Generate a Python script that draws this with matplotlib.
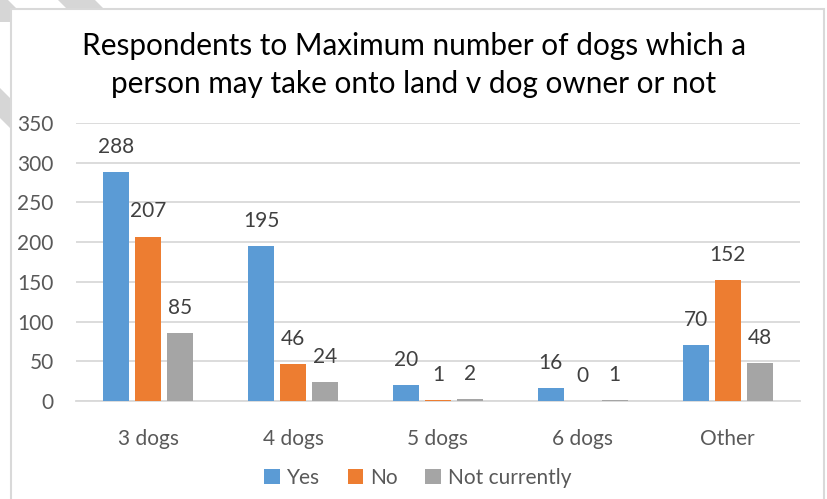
import matplotlib
matplotlib.use("Agg")
import matplotlib.pyplot as plt
from matplotlib.patches import Rectangle, Patch, Polygon
import numpy as np

categories = ["3 dogs", "4 dogs", "5 dogs", "6 dogs", "Other"]
yes = [288, 195, 20, 16, 70]
no = [207, 46, 1, 0, 152]
not_currently = [85, 24, 2, 1, 48]
series_names = ["Yes", "No", "Not currently"]
yticks = [0, 50, 100, 150, 200, 250, 300, 350]
title = "Respondents to Maximum number of dogs which a\nperson may take onto land v dog owner or not"

colors = ["#5B9BD5", "#ED7D31", "#A5A5A5"]
FONT = "Lato"
plt.rcParams['font.family'] = [FONT, 'DejaVu Sans']

W, H = 828, 499
fig = plt.figure(figsize=(W / 100, H / 100), dpi=100)
fig.patch.set_facecolor("white")


def px(pts):
    return [(x / W, 1 - y / H) for x, y in pts]


# faint watermark bands behind the chart (page background)
for poly in [
    [(58, 0), (95, 0), (125, 30), (88, 30)],
    [(0, 0), (8, 0), (30, 22), (0, 22)],
    [(0, 88), (0, 118), (40, 158), (40, 128)],
]:
    fig.patches.append(Polygon(px(poly), closed=True, transform=fig.transFigure,
                               facecolor="#D6D6D6", edgecolor="none", zorder=0))

# chart area with border
fig.patches.append(Rectangle((11 / W, -0.05), (824 - 11) / W, (H - 9) / H + 0.05,
                             transform=fig.transFigure, facecolor="white",
                             edgecolor="#D9D9D9", linewidth=1.5, zorder=1))

ax = fig.add_axes([76 / W, 98 / H, (800 - 76) / W, (401 - 123) / H])
ax.set_zorder(2)
ax.patch.set_alpha(0)
x = np.arange(len(categories))
bw = 26 / 145
step = 32 / 145
for i, (vals, name) in enumerate(zip([yes, no, not_currently], series_names)):
    pos = x + (i - 1) * step
    ax.bar(pos, vals, width=bw, color=colors[i], label=name, zorder=3)
    for p, v in zip(pos, vals):
        ax.annotate(str(v), (p, v), xytext=(0, 11), textcoords="offset points",
                    ha="center", va="bottom", fontsize=15, color="#404040")

ax.set_xlim(-0.5, len(categories) - 0.5)
ax.set_ylim(0, 350)
ax.set_yticks(yticks)
ax.set_xticks(x)
ax.set_xticklabels(categories)
ax.yaxis.grid(True, color="#D9D9D9", linewidth=1.3, zorder=0)
for s in ["top", "right", "left"]:
    ax.spines[s].set_visible(False)
ax.spines["bottom"].set_color("#D9D9D9")
ax.spines["bottom"].set_linewidth(1.3)
ax.tick_params(axis="both", length=0, labelsize=15, labelcolor="#595959")
ax.tick_params(axis="y", pad=16)
ax.tick_params(axis="x", pad=20)

fig.text(0.5, 1 - 65 / H, title, ha="center", va="center",
         fontsize=21.4, color="#000000", linespacing=1.45, zorder=3)

handles = [Patch(facecolor=c, edgecolor="none") for c in colors]
fig.legend(handles, series_names, loc="center", bbox_to_anchor=(418 / W, 1 - 478 / H),
           ncol=3, frameon=False, fontsize=15, labelcolor="#595959",
           handlelength=0.75, handleheight=0.75, handletextpad=0.35, columnspacing=1.3)

fig.savefig("out.png", dpi=100)
